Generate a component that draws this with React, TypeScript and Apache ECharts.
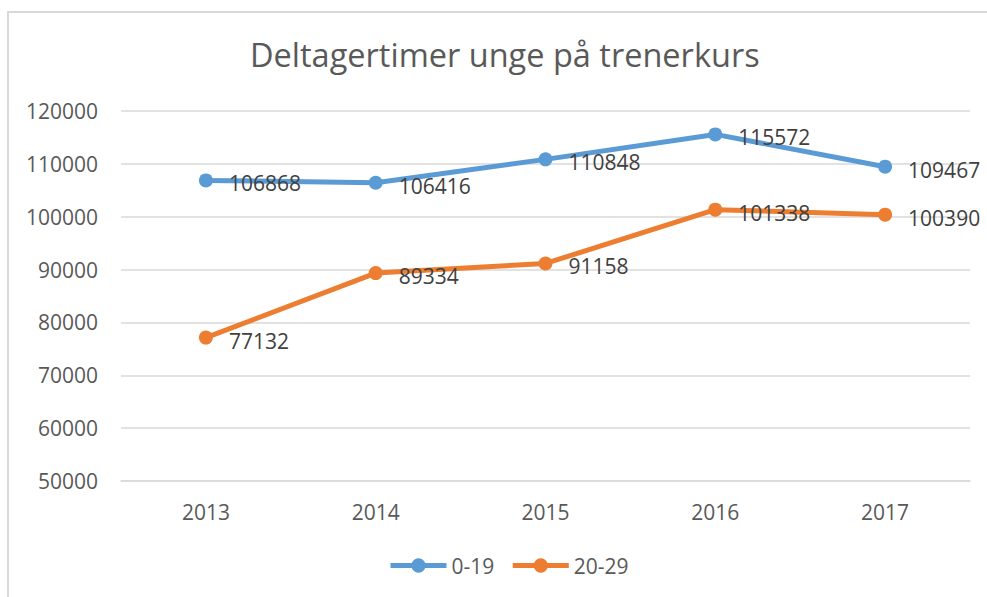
import React, { useEffect, useRef } from "react";
import * as echarts from "echarts";

const categories = ["2013", "2014", "2015", "2016", "2017"];
const series019 = [106868, 106416, 110848, 115572, 109467];
const series2029 = [77132, 89334, 91158, 101338, 100390];
const seriesNames = ["0-19", "20-29"];
const title = "Deltagertimer unge på trenerkurs";

const FONT = "'Open Sans', 'Liberation Sans', sans-serif";

export default function App() {
  const ref = useRef<HTMLDivElement>(null);
  useEffect(() => {
    if (!ref.current) return;
    const chart = echarts.init(ref.current, undefined, { renderer: "svg" });
    const labelStyle = {
      show: true,
      position: "right" as const,
      distance: 16,
      offset: [0, 3],
      color: "#404040",
      fontSize: 21,
      fontFamily: FONT,
    };
    chart.setOption({
      animation: false,
      backgroundColor: "#ffffff",
      textStyle: { fontFamily: FONT },
      title: {
        text: title,
        left: 245,
        top: 33,
        textStyle: { color: "#595959", fontSize: 32.5, fontWeight: "normal", fontFamily: FONT },
      },
      graphic: [
        {
          type: "polyline",
          shape: { points: [[8, 620], [8, 12], [1000, 12]] },
          style: { stroke: "#d9d9d9", lineWidth: 2, fill: "none" },
          silent: true,
        },
      ],
      legend: {
        bottom: 16,
        left: 383,
        itemWidth: 56,
        itemHeight: 18,
        itemGap: 16,
        lineStyle: { width: 5 },
        textStyle: { color: "#595959", fontSize: 21, fontFamily: FONT },
        data: seriesNames,
      },
      grid: { left: 121, right: 17, top: 111, bottom: 116 },
      xAxis: {
        type: "category",
        data: categories,
        boundaryGap: true,
        axisLine: { lineStyle: { color: "#d9d9d9", width: 1.5 } },
        axisTick: { show: false },
        axisLabel: { color: "#595959", fontSize: 21, fontFamily: FONT, margin: 20 },
      },
      yAxis: {
        type: "value",
        min: 50000,
        max: 120000,
        interval: 10000,
        axisLine: { show: false },
        axisTick: { show: false },
        axisLabel: {
          color: "#595959",
          fontSize: 21,
          fontFamily: FONT,
          margin: 23,
          formatter: (v: number) => String(v),
        },
        splitLine: { lineStyle: { color: "#d9d9d9", width: 1.5 } },
      },
      series: [
        {
          name: seriesNames[0],
          type: "line",
          data: series019,
          color: "#5B9BD5",
          symbol: "circle",
          symbolSize: 14,
          lineStyle: { width: 5, color: "#5B9BD5" },
          itemStyle: { color: "#5B9BD5" },
          label: labelStyle,
        },
        {
          name: seriesNames[1],
          type: "line",
          data: series2029,
          color: "#ED7D31",
          symbol: "circle",
          symbolSize: 14,
          lineStyle: { width: 5, color: "#ED7D31" },
          itemStyle: { color: "#ED7D31" },
          label: labelStyle,
        },
      ],
    });
    return () => chart.dispose();
  }, []);
  return (
    <div
      ref={ref}
      style={{ position: "absolute", left: 0, top: 0, width: 987, height: 597 }}
    />
  );
}
